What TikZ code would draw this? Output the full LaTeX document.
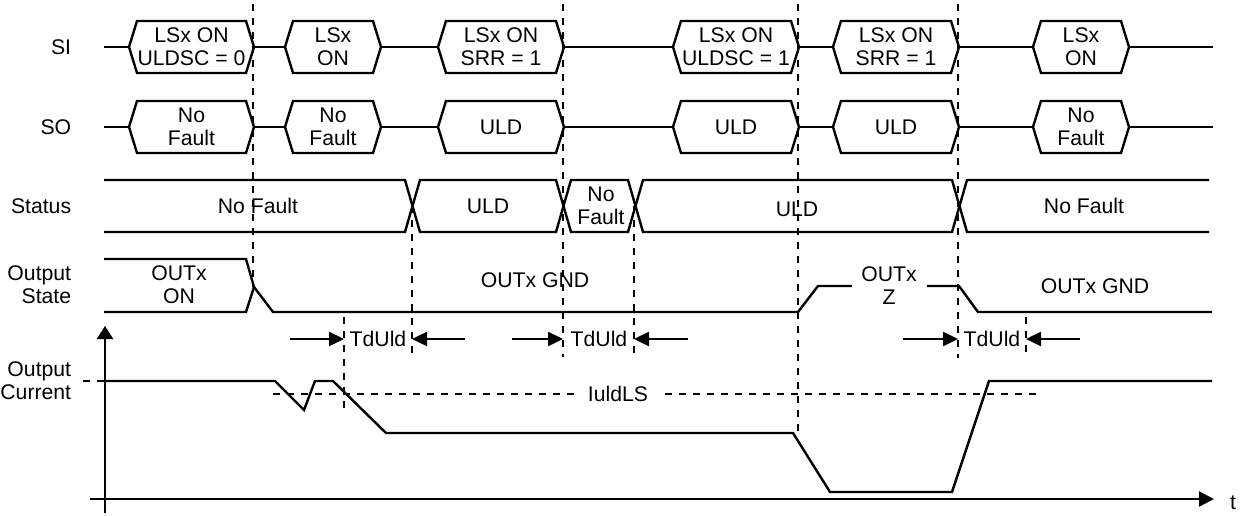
\documentclass[tikz,border=0pt]{standalone}
\usepackage{fontspec}
\setmainfont{Liberation Sans}
\usetikzlibrary{arrows.meta}

% bus box: left point, right point, row, text
\newcommand{\hexbus}[4]{%
  \draw[fill=white] (#1,#3) -- ({#1+8},{#3-26}) -- ({#2-8},{#3-26}) -- (#2,#3)
    -- ({#2-8},{#3+26}) -- ({#1+8},{#3+26}) -- cycle;
  \node[align=center] at ({(#1+#2)/2},#3) {#4};}

\begin{document}
\begin{tikzpicture}[x=0.5pt, y=-0.5pt, line width=1.2pt]
\tikzstyle{every node}=[font=\fontsize{10.6}{11.5}\selectfont]
\tikzstyle{guide}=[dash pattern=on 3.5pt off 3.5pt]
\tikzstyle{tip}=[-{Triangle[length=7.5pt, width=7pt]}]
\useasboundingbox (0, 0) rectangle (1244, 515);

% row names
\node[anchor=east] (si) at (79, 47) {SI};
\node[anchor=east] (so) at (79, 127) {SO};
\node[anchor=east] (status) at (79, 206) {Status};
\node[anchor=east, align=right] (outstate) at (79, 285) {Output\\State};
\node[anchor=east, align=right] (outcurr) at (79, 381) {Output\\Current};

\draw (104, 47) -- (1213, 47); % SI
    \hexbus{129}{254}{47}{LSx ON\\ULDSC = 0}
    \hexbus{285}{381}{47}{LSx\\ON}
    \hexbus{438}{564}{47}{LSx ON\\SRR = 1}
    \hexbus{673}{799}{47}{LSx ON\\ULDSC = 1}
    \hexbus{833}{959}{47}{LSx ON\\SRR = 1}
    \hexbus{1033}{1129}{47}{LSx\\ON}

\draw (104, 127) -- (1213, 127); % SO
    \hexbus{129}{254}{127}{No\\Fault}
    \hexbus{285}{381}{127}{No\\Fault}
    \hexbus{438}{564}{127}{ULD}
    \hexbus{673}{799}{127}{ULD}
    \hexbus{833}{959}{127}{ULD}
    \hexbus{1033}{1129}{127}{No\\Fault}

% Status
\draw (104, 180) -- (405, 180) -- (420, 232) -- (556, 232) -- (571, 180) -- (628, 180)
    -- (643, 232) -- (952, 232) -- (967, 180) -- (1209, 180);
\draw (104, 232) -- (405, 232) -- (420, 180) -- (556, 180) -- (571, 232) -- (628, 232)
    -- (643, 180) -- (952, 180) -- (967, 232) -- (1209, 232);
    \node (st1) at (258, 206) {No Fault};
    \node (st2) at (488, 206) {ULD};
    \node[align=center] (st3) at (601, 206) {No\\Fault};
    \node (st4) at (797, 209) {ULD};
    \node (st5) at (1084, 206) {No Fault};

% Output state
\draw (104, 259) -- (246, 259) -- (254, 287) -- (273, 312) -- (798, 312) -- (818, 286) -- (852, 286);
\draw (104, 312) -- (246, 312) -- (254, 287);
\draw (927, 286) -- (959, 286) -- (978, 312) -- (1212, 312);
    \node[align=center] (os1) at (179, 285) {OUTx\\ON};
    \node (os2) at (535, 280) {OUTx GND};
    \node[align=center] (os3) at (889, 286) {OUTx\\Z};
    \node (os4) at (1095, 286) {OUTx GND};

% Output current
\draw[-{Triangle[length=6.5pt, width=8pt]}] (105, 513) -- (105, 326);
\draw[-{Triangle[length=7.5pt, width=7.5pt]}] (90, 499) -- (1214, 499);
    \node (t) at (1233, 503) {t};
\draw[guide] (83, 381) -- (105, 381);
\draw[guide] (273, 394) -- (1040, 394); % IuldLS
    \node[fill=white, inner xsep=6pt] (iuld) at (618, 394) {IuldLS};
\draw (105, 381) -- (275, 381) -- (304, 410) -- (315, 381) -- (333, 381) -- (386, 433)
    -- (793, 433) -- (830, 492) -- (952, 492) -- (989, 381) -- (1212, 381);

% guides
\draw[guide] (253, 4) -- (253, 287);
\draw[guide] (344, 317) -- (344, 413);
\draw[guide] (412, 206) -- (412, 360);
\draw[guide] (563, 4) -- (563, 357);
\draw[guide] (634, 206) -- (634, 358);
\draw[guide] (798, 4) -- (798, 433);
\draw[guide] (958, 4) -- (958, 358);
\draw[guide] (1026, 317) -- (1026, 358);

% TdUld
\draw[tip] (290, 339) -- (344, 339);
\draw[tip] (465, 339) -- (412, 339);
    \node (td1) at (378, 339) {TdUld};
\draw[tip] (512, 339) -- (563, 339);
\draw[tip] (688, 339) -- (634, 339);
    \node (td2) at (599, 339) {TdUld};
\draw[tip] (903, 339) -- (958, 339);
\draw[tip] (1080, 339) -- (1026, 339);
    \node (td3) at (992, 339) {TdUld};

\end{tikzpicture}
\end{document}
